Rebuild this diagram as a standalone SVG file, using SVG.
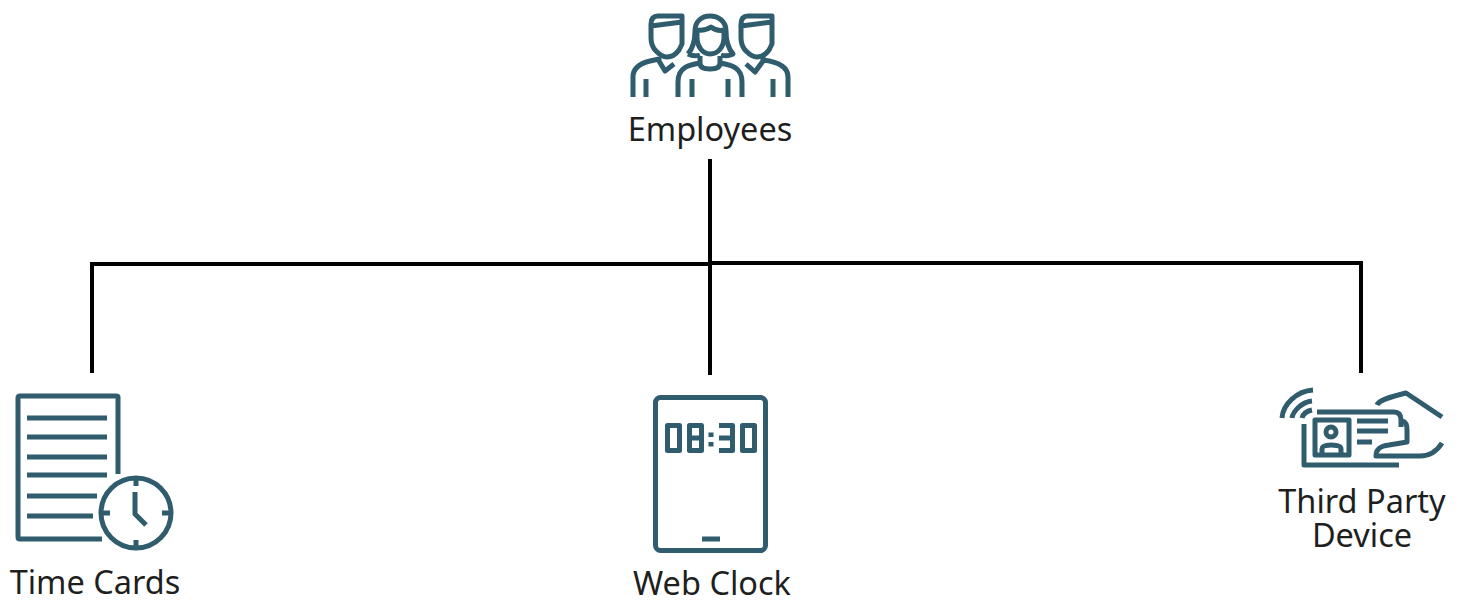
<svg xmlns="http://www.w3.org/2000/svg" width="1465" height="601" viewBox="0 0 1465 601">
<style>
.i{fill:none;stroke:#2f5d6e;stroke-width:5;stroke-linejoin:round}
.c{fill:none;stroke:#000;stroke-width:4}
text{font-family:"Noto Sans","Open Sans",sans-serif;font-size:32.500px;fill:#1f1f1f;text-anchor:middle}
</style>
<rect width="1465" height="601" fill="#fff"/>
<g id="connectors">
<path class="c" d="M710 159V375"/>
<path class="c" d="M92 373V264H710"/>
<path class="c" d="M710 263H1361V373"/>
</g>
<g id="employees">
<path class="i" d="M682 16H658Q651 16 651 24V38Q651 46 656 51Q662 57 667 57Q674 57 679 50L682 44V16ZM651 26L682 22"/>
<path class="i" d="M772 16H748Q741 16 741 24V38Q741 46 746 51Q752 57 757 57Q764 57 769 50L772 44V16ZM741 26L772 22"/>
<path class="i" d="M659 57V61L665 71L674 64M646 97V79M633 97V77Q633 65 650 61L659 59"/>
<path class="i" d="M763 57V61L755 72L746 64M773 97V79M788 97V77Q788 63 763 60"/>
<path class="i" d="M688 54C694 47 695 38 695 31C695 21 702 16 710 16C718 16 726 21 726 31C726 38 727 47 733 54C729 56 724 56 721 55M688 54C692 56 697 56 700 55"/>
<path class="i" d="M697 30C703 31 708 29 711 27C715 30 720 31 724 30M697 30V37C697 47 703 54 710 54C718 54 724 47 724 37V30"/>
<path class="i" d="M700 56V63C700 67 704 69 710 69C716 69 720 67 720 63V56M700 63C689 65 678 67 678 82V97M720 63C731 65 742 67 742 82V97M692 97V79M728 97V79"/>
</g>
<text id="employees-label" x="710" y="141">Employees</text>
<g id="time-cards">
<path class="i" d="M118 474V397Q118 396 116 396H20Q18 396 18 398V537Q18 539 20 539H102"/>
<path class="i" d="M27 418H107M27 437H107M27 457H107M27 475H107M27 496H97M27 516H93"/>
<circle class="i" cx="136" cy="513" r="35"/>
<path class="i" d="M136 478V486M136 540V548M101 513H110M162 513H171M135 492V514L146 525"/>
</g>
<text id="time-cards-label" x="95" y="594">Time Cards</text>
<g id="web-clock">
<rect class="i" x="655.500" y="397.500" width="110" height="153" rx="5"/>
<path class="i" d="M702 539H720"/>
<path class="i" d="M667.500 425.500H679.500V450.500H667.500ZM689.500 425.500H701.500V450.500H689.500ZM689.500 438H701.500M719 425.500H732.500V450.500H719M719 438H732.500M742.500 425.500H754.500V450.500H742.500Z"/>
<path class="i" d="M711 432.500V437M711 442V446.500"/>
</g>
<text id="web-clock-label" x="712" y="595">Web Clock</text>
<g id="third-party-device">
<path class="i" d="M1282 418C1283 404 1297 391 1313 390M1292 418C1293 411 1302 402 1312 401M1302 418C1303 414 1307 411 1312 410"/>
<path class="i" d="M1304 424V465H1399M1317 412H1394C1399 412 1401 415 1401 420V427M1403 421C1406 422 1407 425 1407 430V442L1389 445C1380 446 1376 449 1376 456H1420C1430 456 1437 451 1442 443M1377 405C1379 400 1390 397 1406 393L1442 417"/>
<rect class="i" x="1315" y="420" width="34" height="35"/>
<circle class="i" cx="1331" cy="432" r="5"/>
<path class="i" d="M1322 455V449C1322 446 1326 445 1331 445C1337 445 1341 446 1341 449V455"/>
<path class="i" d="M1357 421H1388M1357 431H1388M1357 442H1372"/>
</g>
<text id="third-party-label"><tspan x="1362" y="513">Third Party</tspan><tspan x="1362" y="547">Device</tspan></text>
</svg>
